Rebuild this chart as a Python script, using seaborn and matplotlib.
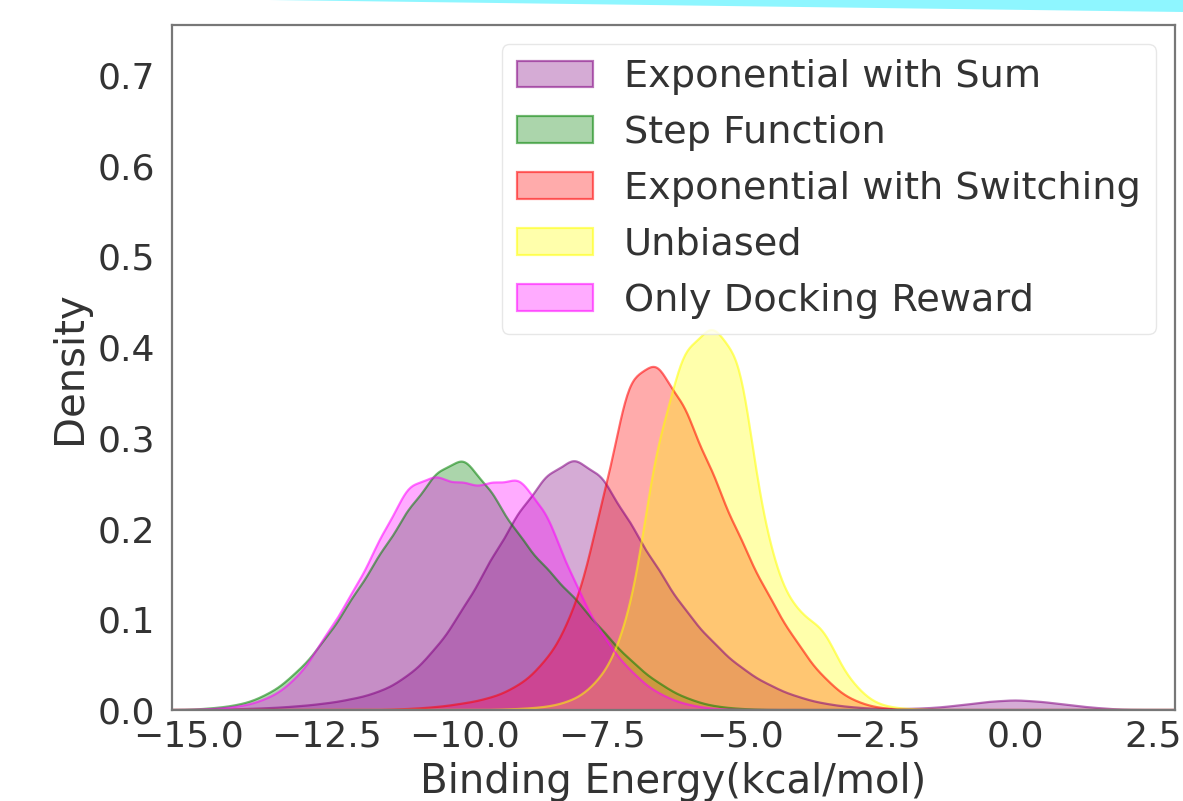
import numpy as np
import pandas as pd
import matplotlib
matplotlib.use("Agg")
import matplotlib.pyplot as plt
import seaborn as sns
from matplotlib.colors import to_rgba
from matplotlib.patches import Patch, Polygon

# Binding energy grid (kcal/mol) and density values
energy_grid = [-15.0, -14.5, -14.0, -13.5, -13.0, -12.5, -12.0, -11.5, -11.0, -10.5,
               -10.0, -9.5, -9.0, -8.5, -8.0, -7.5, -7.0, -6.5, -6.0, -5.5,
               -5.0, -4.5, -4.0, -3.5, -3.0, -2.5, -2.0, -1.5, -1.0, -0.5,
               0.0, 0.5, 1.0, 1.5, 2.0]

exp_sum = [0.0, 0.0, 0.001, 0.002, 0.004, 0.007, 0.012, 0.020, 0.037, 0.067,
           0.112, 0.166, 0.218, 0.259, 0.279, 0.259, 0.207, 0.157, 0.110, 0.075,
           0.047, 0.028, 0.015, 0.007, 0.003, 0.001, 0.001, 0.002, 0.005, 0.009,
           0.011, 0.009, 0.005, 0.002, 0.0]

step_function = [0.0, 0.002, 0.006, 0.018, 0.042, 0.078, 0.125, 0.173, 0.221, 0.262,
                 0.281, 0.240, 0.191, 0.155, 0.124, 0.088, 0.055, 0.030, 0.013, 0.004,
                 0.001, 0.0, 0.0, 0.0, 0.0, 0.0, 0.0, 0.0, 0.0, 0.0,
                 0.0, 0.0, 0.0, 0.0, 0.0]

exp_switching = [0.0, 0.0, 0.0, 0.0, 0.0, 0.0, 0.0, 0.0, 0.001, 0.003,
                 0.007, 0.013, 0.026, 0.053, 0.105, 0.222, 0.372, 0.385, 0.335, 0.262,
                 0.190, 0.128, 0.077, 0.036, 0.011, 0.002, 0.0, 0.0, 0.0, 0.0,
                 0.0, 0.0, 0.0, 0.0, 0.0]

unbiased = [0.0, 0.0, 0.0, 0.0, 0.0, 0.0, 0.0, 0.0, 0.0, 0.0,
            0.0, 0.0, 0.001, 0.003, 0.010, 0.033, 0.095, 0.295, 0.400, 0.425,
            0.398, 0.178, 0.108, 0.094, 0.030, 0.005, 0.001, 0.0, 0.0, 0.0,
            0.0, 0.0, 0.0, 0.0, 0.0]

only_docking = [0.0, 0.001, 0.004, 0.013, 0.035, 0.082, 0.130, 0.190, 0.250, 0.258,
                0.248, 0.248, 0.258, 0.218, 0.140, 0.082, 0.043, 0.018, 0.006, 0.001,
                0.0, 0.0, 0.0, 0.0, 0.0, 0.0, 0.0, 0.0, 0.0, 0.0,
                0.0, 0.0, 0.0, 0.0, 0.0]

series_labels = ["Exponential with Sum", "Step Function", "Exponential with Switching",
                 "Unbiased", "Only Docking Reward"]
series_values = [exp_sum, step_function, exp_switching, unbiased, only_docking]
series_colors = ["purple", "green", "red", "yellow", "magenta"]

x_ticks = [-15.0, -12.5, -10.0, -7.5, -5.0, -2.5, 0.0, 2.5]
y_ticks = [0.0, 0.1, 0.2, 0.3, 0.4, 0.5, 0.6, 0.7]

sns.set_theme(style="white", context="notebook")
plt.rcParams['font.family'] = ['DejaVu Sans']

fig = plt.figure(figsize=(11.83, 8.01), dpi=100)
ax = fig.add_axes([172 / 1183, 1 - 710 / 801, (1175 - 172) / 1183, (710 - 25) / 801])

# smooth the read density values (Gaussian kernel) for drawing
grid = np.asarray(energy_grid)
step = grid[1] - grid[0]
bw = 0.28
xs = np.linspace(-15.3, 2.9, 900)
fill_alpha = 0.33
handles = []
for vals, lab, col in zip(series_values, series_labels, series_colors):
    w = np.asarray(vals) * step
    dens = (w[None, :] * np.exp(-0.5 * ((xs[:, None] - grid[None, :]) / bw) ** 2)
            / (bw * np.sqrt(2 * np.pi))).sum(axis=1)
    ax.fill_between(xs, 0, dens, facecolor=to_rgba(col, fill_alpha), edgecolor="none")
    sns.lineplot(x=xs, y=dens, color=to_rgba(col, 0.55), linewidth=1.6, ax=ax)
    handles.append(Patch(facecolor=to_rgba(col, fill_alpha),
                         edgecolor=to_rgba(col, 0.55), linewidth=1.6, label=lab))

ax.set_xlim(-15.3, 2.9)
ax.set_ylim(0, 0.755)
ax.set_xticks(x_ticks)
ax.set_yticks(y_ticks)
ax.tick_params(axis="both", length=0, labelsize=26, colors="#333333")
ax.tick_params(axis="x", pad=7)
ax.tick_params(axis="y", pad=12)
ax.set_xlabel("Binding Energy(kcal/mol)", fontsize=29, color="#333333", labelpad=6)
ax.set_ylabel("Density", fontsize=29, color="#333333", labelpad=6)
for sp in ax.spines.values():
    sp.set_visible(True)
    sp.set_color("#777777")
    sp.set_linewidth(1.6)

leg = ax.legend(handles=handles, loc="upper right", fontsize=27.5, frameon=True,
                labelspacing=0.52, borderaxespad=0.5, handlelength=2.0)
leg.get_frame().set_edgecolor("#e2e2e2")
leg.get_frame().set_linewidth(1.0)
for t in leg.get_texts():
    t.set_color("#333333")

# cyan decorative band along the top edge of the image
band = Polygon([(270 / 1183, 1.0), (1.0, 1.0), (1.0, 1 - 12 / 801)],
               closed=True, transform=fig.transFigure, facecolor="#8ef6ff",
               edgecolor="none")
fig.patches.append(band)

fig.savefig("out.png", dpi=100)
